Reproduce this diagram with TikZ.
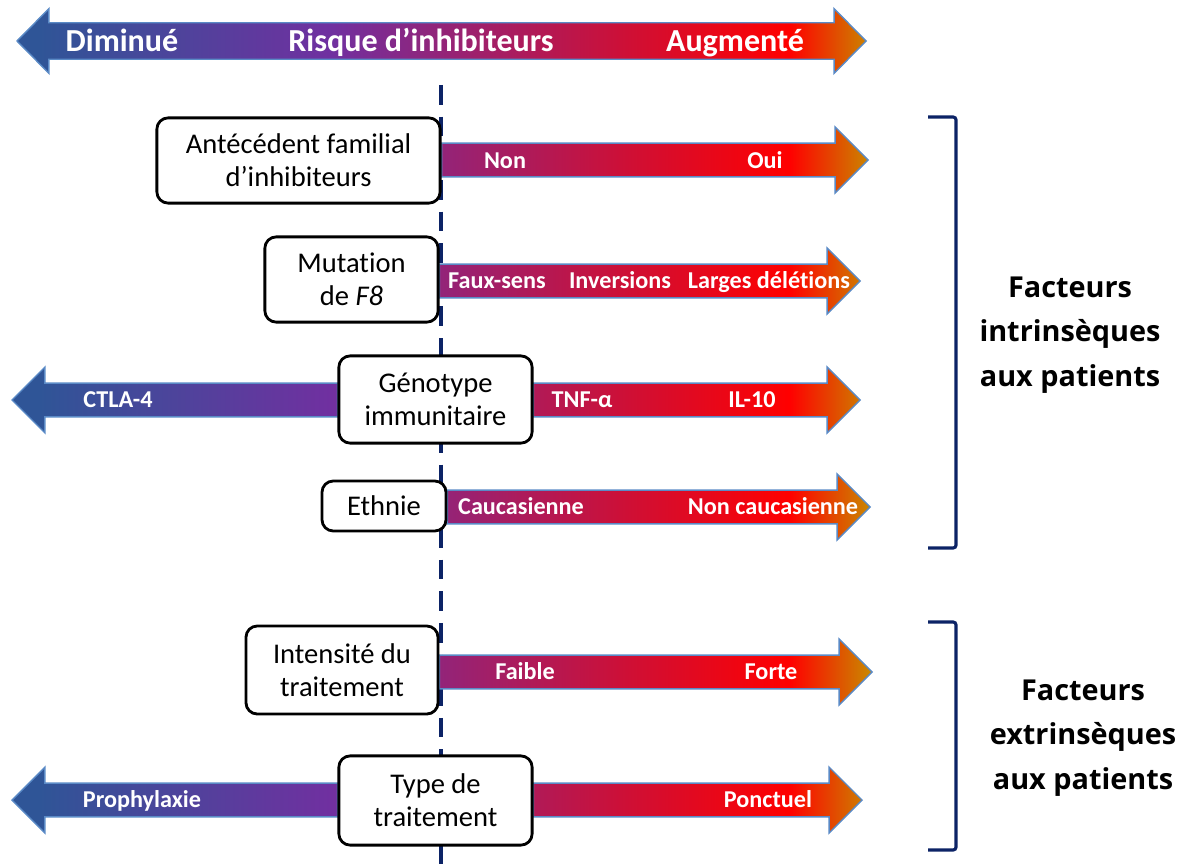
\documentclass[tikz,border=0pt]{standalone}
\usepackage{fontspec}
\setmainfont{Carlito}[Ligatures=CommonOff]
\newfontfamily\sidefont{Open Sans}
\usetikzlibrary{calc,positioning}
\definecolor{riskblue}{HTML}{2F5597}
\definecolor{riskpurple}{HTML}{7030A0}
\definecolor{riskcrimson}{HTML}{CC1038}
\definecolor{riskred}{HTML}{FF0000}
\definecolor{riskorange}{HTML}{C98A00}
\definecolor{arrowedge}{HTML}{5A8AC6}
\definecolor{navy}{HTML}{0C2366}
\pgfdeclarehorizontalshading{risk}{100bp}{color(0bp)=(riskblue); color(26.7bp)=(riskblue);
  color(43.6bp)=(riskpurple); color(60.4bp)=(riskcrimson); color(70.2bp)=(riskred);
  color(75bp)=(riskorange); color(100bp)=(riskorange)}
\pgfdeclarelayer{back}
\pgfdeclarelayer{mid}
\pgfsetlayers{back,mid,main}
\tikzset{
    %Define style for boxes
    factor/.style={
   	rectangle,
   	rounded corners=8pt,
   	draw=black, line width=2pt,
   	fill=white,
   	align=center,
   	inner sep=2pt,
   	font=\fontsize{20.3}{23.5}\selectfont
   },
    % Define label styles
    lbl/.style={
   	text=white,
   	inner sep=0pt,
   	text height=11.1pt, text depth=0pt,
   	font=\bfseries\fontsize{17.2}{18}\selectfont
   },
    toplbl/.style={
   	text=white,
   	inner sep=0pt,
   	text height=14.7pt, text depth=0pt,
   	font=\bfseries\fontsize{22.8}{24}\selectfont
   },
    side/.style={
   	align=center,
   	font=\sidefont\bfseries\fontsize{20.5}{31.5}\selectfont
   },
    % Define line styles
    arrowline/.style={draw=arrowedge, line width=1pt},
    cut/.style={draw=navy, line width=2.8pt, dash pattern=on 14pt off 8.5pt},
    bracket/.style={draw=navy, line width=2.2pt, rounded corners=2pt}
}
% shaded block arrow: #1 start, #2 tip, #3 head length (negative for left)
\newcommand{\riskarrow}[3]{%
  \begin{scope}
    \clip let \p1=(#1), \p2=(#2) in
      (\x1,\y2+12pt) -- ({\x2-(#3)},\y2+12pt) -- ({\x2-(#3)},\y2+23.4pt) -- (\x2,\y2)
      -- ({\x2-(#3)},\y2-23.4pt) -- ({\x2-(#3)},\y2-12pt) -- (\x1,\y2-12pt) -- cycle;
    \shade[shading=risk] (10,0) rectangle (872,866);
  \end{scope}
  \draw[arrowline] let \p1=(#1), \p2=(#2) in
      (\x1,\y2+12pt) -- ({\x2-(#3)},\y2+12pt) -- ({\x2-(#3)},\y2+23.4pt) -- (\x2,\y2)
      -- ({\x2-(#3)},\y2-23.4pt) -- ({\x2-(#3)},\y2-12pt) -- (\x1,\y2-12pt) -- cycle;
}

\begin{document}
\begin{tikzpicture}[x=0.025cm,y=-0.025cm]
		\useasboundingbox (0,0) rectangle (1187,866);
		% boxes
		\node[factor, minimum width=7.08cm, minimum height=2.13cm](famille) at (298.5,160.5){Antécédent familial\\d’inhibiteurs};
		\node[factor, minimum width=4.33cm, minimum height=2.13cm](mutation) at (351.5,279.5){Mutation\\de \textit{F8}};
		\node[factor, minimum width=4.83cm, minimum height=2.18cm](genotype) at (435.5,399.5){Génotype\\immunitaire};
		\node[factor, minimum width=3.1cm, minimum height=1.25cm](ethnie) at (384,506){Ethnie};
		\node[factor, minimum width=4.8cm, minimum height=2.2cm](intensite) at (342,670){Intensité du\\traitement};
		\node[factor, minimum width=4.83cm, minimum height=2.23cm](typetrait) at (435.5,800.5){Type de\\traitement};
		% tips
		\coordinate (moins) at (17,41);
		\coordinate (plus) at (866,41);
		\coordinate (famille-tip) at (868,160);
		\coordinate (mutation-tip) at (860,281);
		\coordinate (genotype-gauche) at (12,400);
		\coordinate (genotype-droite) at (860,400);
		\coordinate (ethnie-tip) at (870,507);
		\coordinate (intensite-tip) at (872,672);
		\coordinate (typetrait-gauche) at (12,800);
		\coordinate (typetrait-droite) at (862,800);
		\coordinate (seuil-haut) at (441,85);
		\coordinate (seuil-bas) at (441,866);
		\begin{pgfonlayer}{back}
		\draw[cut] (seuil-haut) -- (seuil-bas);
		\end{pgfonlayer}
		\begin{pgfonlayer}{mid}
		% risk axis
		\begin{scope}
		\clip let \p1=(moins), \p2=(plus) in
		  (\x1,\y1) -- (\x1+22.7pt,\y1+23pt) -- (\x1+22.7pt,\y1+13pt) -- (\x2-22.7pt,\y1+13pt)
		  -- (\x2-22.7pt,\y1+23pt) -- (\x2,\y2) -- (\x2-22.7pt,\y1-23pt) -- (\x2-22.7pt,\y1-13pt)
		  -- (\x1+22.7pt,\y1-13pt) -- (\x1+22.7pt,\y1-23pt) -- cycle;
		\shade[shading=risk] (10,0) rectangle (872,866);
		\end{scope}
		\draw[arrowline] let \p1=(moins), \p2=(plus) in
		  (\x1,\y1) -- (\x1+22.7pt,\y1+23pt) -- (\x1+22.7pt,\y1+13pt) -- (\x2-22.7pt,\y1+13pt)
		  -- (\x2-22.7pt,\y1+23pt) -- (\x2,\y2) -- (\x2-22.7pt,\y1-23pt) -- (\x2-22.7pt,\y1-13pt)
		  -- (\x1+22.7pt,\y1-13pt) -- (\x1+22.7pt,\y1-23pt) -- cycle;
		\riskarrow{famille.east}{famille-tip}{23.4pt}
		\riskarrow{mutation.east}{mutation-tip}{23.4pt}
		\riskarrow{genotype.west}{genotype-gauche}{-23.4pt}
		\riskarrow{genotype.east}{genotype-droite}{23.4pt}
		\riskarrow{ethnie.east}{ethnie-tip}{23.4pt}
		\riskarrow{intensite.east}{intensite-tip}{23.4pt}
		\riskarrow{typetrait.west}{typetrait-gauche}{-23.4pt}
		\riskarrow{typetrait.east}{typetrait-droite}{23.4pt}
		\end{pgfonlayer}
		% labels
		\node[toplbl](diminue) at (122,41){Diminué};
		\node[toplbl](risque) at (421,41){Risque d’inhibiteurs};
		\node[toplbl](augmente) at (735,41){Augmenté};
		\node[lbl](non) at (505,161){Non};
		\node[lbl](oui) at (765,161){Oui};
		\node[lbl](fauxsens) at (497,281){Faux-sens};
		\node[lbl](inversions) at (620,281){Inversions};
		\node[lbl](deletions) at (769,281){Larges délétions};
		\node[lbl](ctla) at (118,400){CTLA-4};
		\node[lbl](tnf) at (582,400){TNF-α};
		\node[lbl](il) at (752,400){IL-10};
		\node[lbl](caucasienne) at (521,507){Caucasienne};
		\node[lbl](noncauc) at (773,507){Non caucasienne};
		\node[lbl](faible) at (525,672){Faible};
		\node[lbl](forte) at (771,672){Forte};
		\node[lbl](prophylaxie) at (142,800){Prophylaxie};
		\node[lbl](ponctuel) at (768,800){Ponctuel};
		% brackets
		\draw[bracket] (928,117) -- (956,117) -- (956,548) -- (928,548);
		\draw[bracket] (928,622) -- (956,622) -- (956,850) -- (928,850);
		\node[side](intrinseques) at (1070,335){Facteurs\\intrinsèques\\aux patients};
		\node[side](extrinseques) at (1083,738){Facteurs\\extrinsèques\\aux patients};
\end{tikzpicture}
\end{document}
